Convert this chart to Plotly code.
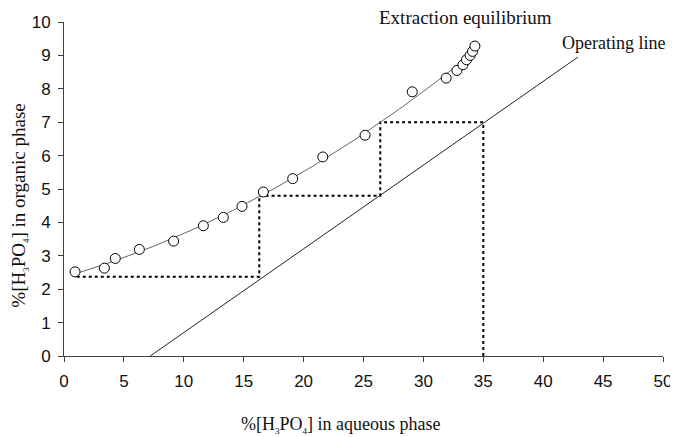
import numpy as np
import plotly.graph_objects as go

# Equilibrium data points (aqueous %, organic %)
eq_x = [0.92, 3.37, 4.28, 6.29, 9.15, 11.63, 13.3, 14.86, 16.64, 19.09, 21.6, 25.13,
        29.07, 31.9, 32.8, 33.3, 33.6, 33.9, 34.1, 34.3]
eq_y = [2.52, 2.63, 2.92, 3.19, 3.44, 3.90, 4.15, 4.48, 4.91, 5.31, 5.96, 6.61,
        7.91, 8.32, 8.55, 8.72, 8.87, 9.00, 9.12, 9.28]

# Operating line end points
op_x = [7.2, 42.9]
op_y = [0.0, 8.95]

# McCabe-Thiele steps (dotted)
step_x = [35.0, 35.0, 26.4, 26.4, 16.3, 16.3, 0.9]
step_y = [0.0, 7.0, 7.0, 4.8, 4.8, 2.37, 2.37]

x_ticks = [0, 5, 10, 15, 20, 25, 30, 35, 40, 45, 50]
y_ticks = [0, 1, 2, 3, 4, 5, 6, 7, 8, 9, 10]

# Trendline (polynomial fit of equilibrium data, as in the source)
coef = np.polyfit(eq_x, eq_y, 2)
fit_x = np.linspace(min(eq_x), max(eq_x), 100)
fit_y = np.polyval(coef, fit_x)

fig = go.Figure()
fig.add_trace(go.Scatter(x=op_x, y=op_y, mode="lines",
                         line=dict(color="#222222", width=1), showlegend=False))
fig.add_trace(go.Scatter(x=step_x, y=step_y, mode="lines",
                         line=dict(color="black", width=2, dash="dot"), showlegend=False))
fig.add_trace(go.Scatter(x=fit_x, y=fit_y, mode="lines",
                         line=dict(color="#666666", width=1), showlegend=False))
fig.add_trace(go.Scatter(x=eq_x, y=eq_y, mode="markers",
                         marker=dict(symbol="circle", size=10, color="white",
                                     line=dict(color="black", width=1)),
                         showlegend=False))

axis_common = dict(showgrid=False, zeroline=False, showline=True, linecolor="#404040",
                   linewidth=1, ticks="outside", ticklen=5, tickcolor="#404040",
                   automargin=False,
                   tickfont=dict(family="Liberation Sans", size=17, color="#111111"))

fig.update_xaxes(range=[0, 50], tickvals=x_ticks, ticklabelstandoff=5, **axis_common)
fig.update_yaxes(range=[0, 10], tickvals=y_ticks, ticklabelstandoff=4, **axis_common)

serif = dict(family="Liberation Serif", size=18, color="#111111")
serif_big = dict(family="Liberation Serif", size=19, color="#111111")
sub = lambda s: '<sub><span style="font-size:9px">' + s + '</span></sub>'
fig.update_layout(
    width=670, height=429,
    margin=dict(l=56, r=15, t=14, b=81),
    plot_bgcolor="white", paper_bgcolor="white",
    annotations=[
        dict(text="Extraction equilibrium", x=0.671, y=1.012, xref="paper", yref="paper",
             xanchor="center", yanchor="middle", showarrow=False, font=serif_big),
        dict(text="Operating line", x=0.918, y=0.937, xref="paper", yref="paper",
             xanchor="center", yanchor="middle", showarrow=False, font=serif),
        dict(text="%[H" + sub("3") + "PO" + sub("4") + "] in aqueous phase",
             x=0.461, y=-0.207, xref="paper", yref="paper", xanchor="center",
             yanchor="middle", showarrow=False, font=serif),
        dict(text="%[H" + sub("3") + "PO" + sub("4") + "] in organic phase",
             x=-0.0735, y=0.45, xref="paper", yref="paper", xanchor="center",
             yanchor="middle", showarrow=False, textangle=-90, font=serif_big),
    ],
)

fig.write_html("out.html")
